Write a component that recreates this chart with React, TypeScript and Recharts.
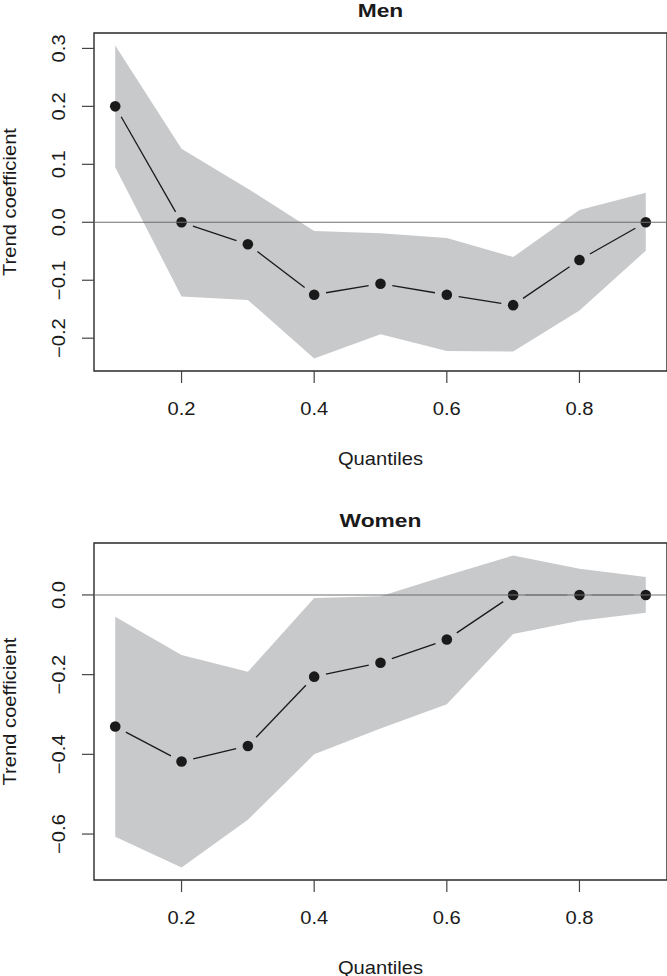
import { ComposedChart, Area, Line, XAxis, YAxis, ReferenceLine, ReferenceArea } from 'recharts';

const QUANTILES = [0.1, 0.2, 0.3, 0.4, 0.5, 0.6, 0.7, 0.8, 0.9];
const X_TICKS = [0.2, 0.4, 0.6, 0.8];

const MEN_COEF = [0.2, 0.0, -0.038, -0.125, -0.106, -0.125, -0.143, -0.065, 0.0];
const MEN_LOWER = [0.095, -0.128, -0.134, -0.235, -0.193, -0.222, -0.223, -0.152, -0.049];
const MEN_UPPER = [0.305, 0.127, 0.058, -0.015, -0.019, -0.027, -0.06, 0.021, 0.051];
const MEN_TICKS = [-0.2, -0.1, 0.0, 0.1, 0.2, 0.3];

const WOMEN_COEF = [-0.33, -0.418, -0.379, -0.205, -0.17, -0.112, 0.0, 0.0, 0.0];
const WOMEN_LOWER = [-0.607, -0.684, -0.564, -0.4, -0.335, -0.274, -0.098, -0.065, -0.045];
const WOMEN_UPPER = [-0.055, -0.151, -0.193, -0.008, -0.003, 0.049, 0.099, 0.066, 0.045];
const WOMEN_TICKS = [-0.6, -0.4, -0.2, 0.0];

const BAND = '#c8c9cb';
const INK = '#1a1a1a';
const ZERO = '#6e6e6e';
const FONT = '"Liberation Sans", Arial, Helvetica, sans-serif';
const FS = 18;
const STRETCH = 1.12;
const GAP = 12; // R type="b": line segments stop short of the points

// R-ish axis range: data range padded by 4% each side
const padRange = (lo: number, hi: number): [number, number] => {
  const d = (hi - lo) * 0.04;
  return [lo - d, hi + d];
};

const fmt = (v: number) => {
  const s = Math.abs(v) < 1e-9 ? '0.0' : v.toFixed(1);
  return s.replace('-', '\u2212');
};

const XTick = (props: any) => {
  const { x, y, payload } = props;
  return (
    <text
      transform={`translate(${x},${y}) scale(${STRETCH},1)`}
      textAnchor="middle"
      dy="0.71em"
      fontSize={FS}
      fontFamily={FONT}
      fill={INK}
    >
      {fmt(payload.value)}
    </text>
  );
};

const YTick = (props: any) => {
  const { x, y, payload } = props;
  return (
    <text
      transform={`translate(${x},${y}) rotate(-90) scale(${STRETCH},1)`}
      textAnchor="middle"
      fontSize={FS}
      fontFamily={FONT}
      fill={INK}
    >
      {fmt(payload.value)}
    </text>
  );
};

// pixel y of value 0, worked out from the points' own values and pixels
function zeroPixel(points: any[] | undefined) {
  if (!points || points.length < 2) return undefined;
  const a = points[0];
  const b = points.find((pt: any) => pt.value !== a.value);
  if (!b) return undefined;
  const slope = (b.y - a.y) / (b.value - a.value);
  return a.y - a.value * slope;
}

const SegDot = (props: any) => {
  const { cx, cy, index, points } = props;
  const next = points && points[index + 1];
  let seg = null;
  if (next) {
    const dx = next.x - cx;
    const dy = next.y - cy;
    const d = Math.hypot(dx, dy);
    if (d > 2 * GAP) {
      // the abline at 0 is drawn over the series in R, so a flat segment on it looks grey
      const zeroY = zeroPixel(points);
      const onZero = zeroY !== undefined && Math.abs(cy - zeroY) < 0.5 && Math.abs(next.y - zeroY) < 0.5;
      seg = (
        <line
          x1={cx + (dx / d) * GAP}
          y1={cy + (dy / d) * GAP}
          x2={next.x - (dx / d) * GAP}
          y2={next.y - (dy / d) * GAP}
          stroke={onZero ? ZERO : INK}
          strokeWidth={onZero ? 1.1 : 1.3}
        />
      );
    }
  }
  return (
    <g key={`pt-${index}`}>
      {seg}
      <circle cx={cx} cy={cy} r={5.3} fill={INK} />
    </g>
  );
};

interface PanelProps {
  title: string;
  coef: number[];
  lower: number[];
  upper: number[];
  yTicks: number[];
  top: number;
  plotHeight: number;
}

function Panel({ title, coef, lower, upper, yTicks, top, plotHeight }: PanelProps) {
  const data = QUANTILES.map((q, i) => ({ q, coef: coef[i], band: [lower[i], upper[i]] }));
  const xDomain = padRange(QUANTILES[0], QUANTILES[QUANTILES.length - 1]);
  const yDomain = padRange(Math.min(...lower, ...coef), Math.max(...upper, ...coef));
  const height = 488;

  return (
    <ComposedChart width={667} height={height} data={data} margin={{ top, right: 0, bottom: 0, left: 0 }}>
      <XAxis
        type="number"
        dataKey="q"
        domain={xDomain}
        ticks={X_TICKS}
        allowDataOverflow
        height={height - top - plotHeight}
        axisLine={false}
        tickLine={{ stroke: '#444', strokeWidth: 1.2 }}
        tickSize={12}
        tickMargin={19}
        tick={<XTick />}
        label={{
          content: (p: any) => {
            const vb = p.viewBox;
            return (
              <text
                transform={`translate(${vb.x + vb.width / 2},${vb.y + 87.5}) scale(${STRETCH},1)`}
                textAnchor="middle"
                dominantBaseline="central"
                fontSize={FS}
                fontFamily={FONT}
                fill={INK}
              >
                Quantiles
              </text>
            );
          },
        }}
      />
      <YAxis
        type="number"
        domain={yDomain}
        ticks={yTicks}
        allowDataOverflow
        width={94}
        axisLine={false}
        tickLine={{ stroke: '#444', strokeWidth: 1.2 }}
        tickSize={12}
        tickMargin={17}
        tick={<YTick />}
        label={{
          content: (p: any) => {
            const vb = p.viewBox;
            return (
              <text
                transform={`translate(16,${vb.y + vb.height / 2}) rotate(-90) scale(${STRETCH},1)`}
                textAnchor="middle"
                fontSize={FS}
                fontFamily={FONT}
                fill={INK}
              >
                Trend coefficient
              </text>
            );
          },
        }}
      />
      <Area
        type="linear"
        dataKey="band"
        stroke="none"
        fill={BAND}
        fillOpacity={1}
        isAnimationActive={false}
      />
      <Line
        type="linear"
        dataKey="coef"
        stroke="none"
        dot={(p: any) => <SegDot {...p} key={`d-${p.index}`} />}
        activeDot={false}
        isAnimationActive={false}
      />
      <ReferenceLine y={0} stroke={ZERO} strokeWidth={1.1} zIndex={1000} />
      <ReferenceArea
        x1={xDomain[0]}
        x2={xDomain[1]}
        y1={yDomain[0]}
        y2={yDomain[1]}
        fill="none"
        fillOpacity={0}
        stroke="#2a2a2a"
        strokeWidth={1.4}
        label={{
          content: (p: any) => {
            const vb = p.viewBox;
            return (
              <text
                transform={`translate(${vb.x + vb.width / 2},${vb.y - 23}) scale(1.2,1)`}
                textAnchor="middle"
                dominantBaseline="central"
                fontSize={19}
                fontWeight="bold"
                fontFamily={FONT}
                fill={INK}
              >
                {title}
              </text>
            );
          },
        }}
      />
    </ComposedChart>
  );
}

export default function App() {
  return (
    <div style={{ position: 'absolute', left: 0, top: 0, width: 667, height: 976, background: '#fff' }}>
      <Panel
        title="Men"
        coef={MEN_COEF}
        lower={MEN_LOWER}
        upper={MEN_UPPER}
        yTicks={MEN_TICKS}
        top={33}
        plotHeight={338}
      />
      <Panel
        title="Women"
        coef={WOMEN_COEF}
        lower={WOMEN_LOWER}
        upper={WOMEN_UPPER}
        yTicks={WOMEN_TICKS}
        top={55}
        plotHeight={337}
      />
    </div>
  );
}
